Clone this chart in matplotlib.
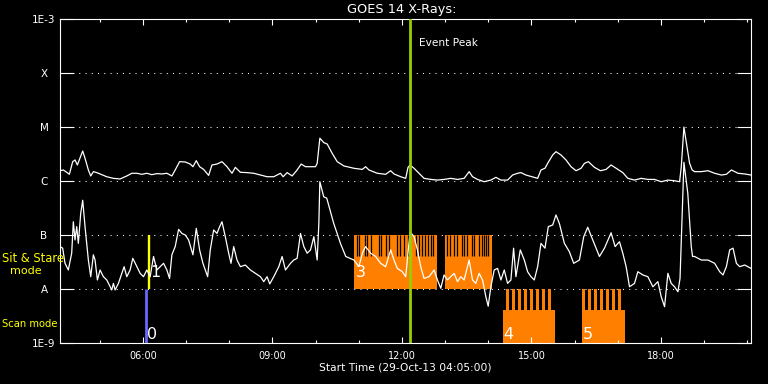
import matplotlib
matplotlib.use('Agg')
import matplotlib.pyplot as plt
from matplotlib.ticker import NullLocator

# GOES 14 long channel (1-8 A), hours UT and flux in 1e-6 W/m^2
long_hours = [4.083, 4.160, 4.238, 4.300, 4.377, 4.431, 4.485, 4.609, 4.663, 4.740,
              4.795, 4.856, 4.934, 5.050, 5.166, 5.320, 5.475, 5.630, 5.746, 5.862,
              5.978, 6.094, 6.210, 6.326, 6.442, 6.558, 6.674, 6.751, 6.852, 6.983,
              7.099, 7.161, 7.239, 7.316, 7.409, 7.525, 7.602, 7.718, 7.834, 7.950,
              8.066, 8.143, 8.260, 8.414, 8.569, 8.724, 8.878, 9.033, 9.188, 9.250,
              9.342, 9.458, 9.574, 9.667, 9.768, 9.884, 10.000, 10.038, 10.100, 10.193,
              10.270, 10.386, 10.502, 10.657, 10.889, 11.083, 11.160, 11.237, 11.430, 11.624,
              11.740, 11.817, 11.972, 12.088, 12.142, 12.189, 12.281, 12.397, 12.513, 12.668,
              12.823, 12.977, 13.132, 13.287, 13.441, 13.557, 13.635, 13.751, 13.905, 14.060,
              14.176, 14.292, 14.447, 14.563, 14.679, 14.756, 14.872, 15.065, 15.143, 15.220,
              15.313, 15.375, 15.491, 15.568, 15.684, 15.800, 15.916, 16.032, 16.148, 16.226,
              16.318, 16.458, 16.597, 16.728, 16.844, 16.960, 17.115, 17.231, 17.386, 17.540,
              17.695, 17.850, 18.004, 18.159, 18.314, 18.430, 18.469, 18.530, 18.580, 18.660,
              18.720, 18.778, 18.933, 19.087, 19.242, 19.397, 19.513, 19.629, 19.706, 19.783,
              19.938, 20.083]
long_flux = [1.55, 1.60, 1.45, 1.33, 2.28, 2.45, 1.98, 3.59, 2.63, 1.60,
             1.24, 1.49, 1.43, 1.31, 1.20, 1.12, 1.09, 1.24, 1.39, 1.39,
             1.33, 1.39, 1.31, 1.37, 1.35, 1.39, 1.24, 1.60, 2.28, 2.25,
             2.06, 1.84, 2.38, 1.84, 1.64, 1.27, 1.98, 2.06, 2.28, 1.84,
             1.39, 1.79, 1.45, 1.43, 1.39, 1.29, 1.20, 1.20, 1.39, 1.20,
             1.43, 1.24, 1.60, 2.06, 1.84, 1.84, 1.84, 2.12, 6.20, 5.13,
             4.84, 3.25, 2.28, 1.90, 1.72, 1.64, 1.84, 1.60, 1.39, 1.33,
             1.55, 1.35, 1.20, 1.12, 1.79, 1.98, 1.72, 1.39, 1.12, 1.07,
             1.04, 1.07, 1.12, 1.07, 1.12, 1.49, 1.20, 1.07, 0.97, 1.04,
             1.17, 1.04, 1.04, 1.29, 1.39, 1.43, 1.29, 1.17, 1.12, 1.60,
             1.72, 2.12, 3.03, 3.49, 3.03, 2.45, 1.84, 1.55, 1.72, 2.12,
             2.28, 1.79, 1.55, 1.64, 1.98, 1.72, 1.43, 1.12, 1.04, 1.12,
             1.07, 1.07, 0.97, 1.04, 1.01, 0.97, 1.84, 10.0, 5.60, 2.15,
             1.60, 1.49, 1.49, 1.55, 1.39, 1.29, 1.33, 1.60, 1.49, 1.39,
             1.35, 1.29]

# short channel (0.5-4 A), flux in 1e-8 W/m^2
short_hours = [4.083, 4.145, 4.199, 4.276, 4.354, 4.392, 4.431, 4.470, 4.508, 4.563,
               4.609, 4.663, 4.740, 4.795, 4.856, 4.895, 4.949, 5.011, 5.088, 5.166,
               5.243, 5.282, 5.320, 5.359, 5.436, 5.514, 5.568, 5.630, 5.707, 5.769,
               5.846, 5.939, 6.016, 6.094, 6.171, 6.249, 6.326, 6.403, 6.481, 6.558,
               6.620, 6.674, 6.751, 6.829, 6.906, 6.983, 7.061, 7.161, 7.239, 7.316,
               7.393, 7.502, 7.563, 7.641, 7.718, 7.780, 7.834, 7.911, 7.989, 8.043,
               8.105, 8.182, 8.260, 8.375, 8.491, 8.607, 8.724, 8.801, 8.878, 8.940,
               9.033, 9.149, 9.226, 9.304, 9.420, 9.497, 9.574, 9.652, 9.729, 9.806,
               9.884, 9.961, 10.038, 10.077, 10.100, 10.190, 10.260, 10.420, 10.580, 10.700,
               10.889, 11.005, 11.083, 11.160, 11.276, 11.392, 11.507, 11.624, 11.740, 11.817,
               11.894, 12.010, 12.088, 12.142, 12.189, 12.281, 12.359, 12.436, 12.513, 12.629,
               12.745, 12.823, 12.900, 12.977, 13.055, 13.132, 13.209, 13.287, 13.364, 13.441,
               13.557, 13.635, 13.712, 13.789, 13.867, 13.944, 13.998, 14.060, 14.137, 14.215,
               14.292, 14.370, 14.447, 14.524, 14.586, 14.640, 14.741, 14.834, 14.911, 14.988,
               15.065, 15.143, 15.220, 15.313, 15.390, 15.491, 15.568, 15.646, 15.762, 15.878,
               15.978, 16.110, 16.210, 16.303, 16.419, 16.574, 16.690, 16.844, 16.937, 17.038,
               17.115, 17.192, 17.270, 17.386, 17.463, 17.579, 17.695, 17.811, 17.927, 18.004,
               18.082, 18.159, 18.236, 18.314, 18.391, 18.440, 18.530, 18.620, 18.700, 18.730,
               18.778, 18.933, 19.087, 19.242, 19.358, 19.435, 19.513, 19.590, 19.667, 19.745,
               19.822, 19.938, 20.083]
short_flux = [6.1, 5.7, 3.0, 2.25, 4.6, 17.6, 8.1, 14.3, 7.0, 25.2,
              44.0, 14.3, 3.44, 1.69, 4.3, 3.44, 1.47, 2.25, 1.69, 1.47,
              1.10, 0.96, 1.27, 0.96, 1.27, 1.95, 2.59, 1.69, 2.25, 3.7,
              2.78, 1.95, 1.69, 2.25, 1.69, 4.0, 2.25, 2.59, 2.99, 2.25,
              1.57, 4.3, 6.1, 12.7, 10.7, 10.0, 8.1, 4.3, 13.3, 5.3,
              2.99, 1.69, 5.3, 12.4, 10.7, 14.3, 17.6, 9.3, 4.6, 2.99,
              6.1, 3.44, 2.59, 2.78, 2.25, 1.95, 1.69, 1.37, 1.69, 1.24,
              1.69, 2.59, 4.0, 2.25, 2.99, 3.44, 3.7, 10.7, 6.1, 4.6,
              5.3, 9.3, 3.44, 16.4, 97.0, 51.0, 48.0, 16.5, 6.9, 4.0,
              3.44, 2.59, 4.6, 6.1, 4.6, 4.0, 2.99, 2.59, 5.3, 3.44,
              2.41, 2.09, 1.69, 4.6, 11.5, 9.3, 5.3, 2.59, 1.57, 1.69,
              2.25, 1.47, 1.03, 1.82, 1.47, 1.69, 1.95, 1.37, 1.69, 1.47,
              3.44, 1.47, 1.27, 1.95, 1.47, 0.72, 0.48, 1.10, 2.25, 2.41,
              1.47, 2.25, 1.27, 1.47, 5.7, 1.69, 5.3, 3.44, 2.09, 1.69,
              1.47, 2.59, 7.0, 5.7, 14.3, 15.3, 23.5, 16.4, 7.0, 4.9,
              2.99, 3.44, 9.3, 13.9, 8.1, 4.0, 5.7, 11.0, 6.1, 7.5,
              4.6, 2.59, 1.10, 1.27, 2.09, 1.82, 1.69, 1.10, 1.37, 0.72,
              0.47, 1.95, 1.27, 1.10, 0.89, 1.57, 222.0, 59.0, 6.1, 4.0,
              4.0, 3.44, 3.44, 2.99, 2.09, 1.82, 2.59, 5.3, 5.7, 2.99,
              2.59, 2.78, 2.41]

# IRIS observing blocks
stare_blocks = [(10.901, 12.803), (12.988, 14.095)]
stare_gaps = [10.959, 11.017, 11.145, 11.203, 11.295, 11.469, 11.527, 11.632, 11.701, 11.898,
              11.956, 12.049, 12.130, 12.316, 12.397, 12.455, 12.525, 12.594, 12.664, 12.722,
              13.046, 13.116, 13.197, 13.267, 13.383, 13.441, 13.510, 13.615, 13.661, 13.789,
              13.847, 13.893, 13.951, 13.997]
scan_blocks = [(14.333, 15.539), (16.166, 17.163)]
scan_steps = [14.403, 14.542, 14.681, 14.820, 14.960, 15.099, 15.238, 15.377,
              16.166, 16.305, 16.444, 16.583, 16.722, 16.861, 17.000]
scan_step_width = 0.081
obs_labels = ['0', '1', '3', '4', '5']
obs_hours = [6.094, 6.17, 10.925, 14.35, 16.18]
obs_levels = [1.2e-9, 1.66e-8, 1.66e-8, 1.2e-9, 1.2e-9]
scan_line_hour = 6.085
stare_line_hour = 6.143
event_hour = 12.177

levels = [1e-9, 1e-8, 1e-7, 1e-6, 1e-5, 1e-4, 1e-3]
level_names = ['1E-9', 'A', 'B', 'C', 'M', 'X', '1E-3']
hour_ticks = [6, 9, 12, 15, 18]
hour_labels = ['06:00', '09:00', '12:00', '15:00', '18:00']

orange = '#ff8000'

fig = plt.figure(figsize=(7.68, 3.84), dpi=100, facecolor='black')
ax = fig.add_axes([60 / 768, 41 / 384, 691 / 768, 324 / 384])
ax.set_facecolor('black')
ax.set_yscale('log')
ax.set_ylim(1e-9, 1e-3)
ax.set_xlim(4 + 5 / 60, 20 + 5 / 60)

# dotted level lines
for lev in levels[1:-1]:
    ax.axhline(lev, color='white', lw=0.75, ls=(0, (1, 5)), zorder=0.5)

# sit & stare rasters
for s, e in stare_blocks:
    ax.bar(s, 4.1e-8 - 1e-8, bottom=1e-8, width=e - s, align='edge', color=orange, lw=0, zorder=1)
    ax.bar(s, 1e-7 - 4.1e-8, bottom=4.1e-8, width=e - s, align='edge', color=orange, lw=0, zorder=1)
ax.vlines(stare_gaps, 4.1e-8, 1e-7, color='black', lw=0.9, zorder=1.5)

# scan rasters
for s, e in scan_blocks:
    ax.bar(s, 4.1e-9 - 1e-9, bottom=1e-9, width=e - s, align='edge', color=orange, lw=0, zorder=1)
ax.bar(scan_steps, [1e-8 - 4.1e-9] * len(scan_steps), bottom=4.1e-9, width=scan_step_width,
       align='edge', color=orange, lw=0, zorder=1)

ax.vlines(scan_line_hour, 1e-9, 1e-8, color='#6868ff', lw=2.0, zorder=2)
ax.vlines(stare_line_hour, 1e-8, 1e-7, color='#ffff00', lw=1.7, zorder=2)

ax.plot(long_hours, [v * 1e-6 for v in long_flux], color='white', lw=0.9, zorder=3)
ax.plot(short_hours, [v * 1e-8 for v in short_flux], color='white', lw=0.9, zorder=3)

for lab, h, lev in zip(obs_labels, obs_hours, obs_levels):
    ax.text(h, lev, lab, color='white', fontsize=11.5, va='baseline', ha='left', zorder=5)

ax.axvline(event_hour, color='#9acd00', lw=2.0, zorder=4)
ax.annotate('Event Peak', xy=(event_hour, 3.6e-4), xytext=(7, 0), textcoords='offset points',
            color='white', fontsize=7.6, va='center', ha='left')

# axes styling
for sp in ax.spines.values():
    sp.set_color('white')
    sp.set_linewidth(0.8)
ax.set_yticks(levels)
ax.set_yticklabels(level_names)
ax.yaxis.set_minor_locator(NullLocator())
ax.tick_params(axis='y', which='major', direction='in', length=10, width=0.8, colors='white',
               left=True, right=True, labelsize=7.5, pad=11.5)
for lab in ax.get_yticklabels():
    lab.set_ha('center')
ax.set_xticks(hour_ticks)
ax.set_xticklabels(hour_labels)
ax.set_xticks(range(5, 21), minor=True)
ax.tick_params(axis='x', which='major', direction='in', length=4.3, width=0.8, colors='white',
               top=True, bottom=True, labelsize=7, pad=5.5)
ax.tick_params(axis='x', which='minor', direction='in', length=2.2, width=0.8, colors='white',
               top=True, bottom=True)

fig.text(401.8 / 768, 1 - 9.5 / 384, 'GOES 14 X-Rays:', color='white', fontsize=9.3,
         ha='center', va='center')
fig.text(405.5 / 768, 1 - 368 / 384, 'Start Time (29-Oct-13 04:05:00)', color='white',
         fontsize=7.7, ha='center', va='center')
# mode labels on the left margin
fig.text(2 / 768, 1 - 258.5 / 384, 'Sit & Stare', color='#ffff00', fontsize=8.3, ha='left', va='center')
fig.text(10 / 768, 1 - 270.5 / 384, 'mode', color='#ffff00', fontsize=8, ha='left', va='center')
fig.text(2 / 768, 1 - 324 / 384, 'Scan mode', color='#ffff00', fontsize=7.2, ha='left', va='center')

fig.savefig('out.png', dpi=100, facecolor='black')
